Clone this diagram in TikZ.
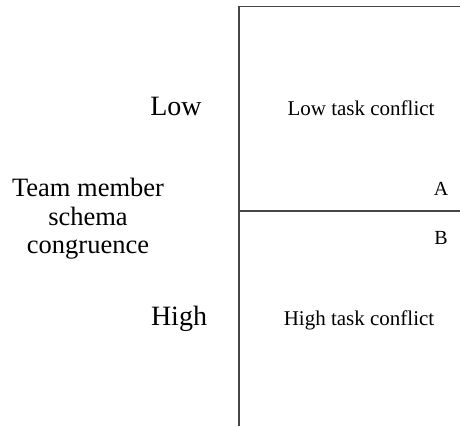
\documentclass[tikz,border=0pt]{standalone}
\usepackage{fontspec}
\setmainfont{Liberation Serif}
\begin{document}
\begin{tikzpicture}[x=1pt,y=-1pt,
  frame/.style={draw=black!72,line width=1.3pt},
  axislabel/.style={font=\fontsize{28}{28.5}\selectfont,inner sep=0pt,anchor=base},
  celltext/.style={font=\fontsize{21}{24}\selectfont,inner sep=0pt,anchor=base},
  corner/.style={font=\fontsize{20}{24}\selectfont,inner sep=0pt,anchor=base}]
\useasboundingbox (0,0) rectangle (460,426);
% quadrant frame
\coordinate (topL) at (239,6.5);
\coordinate (topR) at (460,6.5);
\coordinate (botL) at (239,426);
\coordinate (midL) at (239,211);
\coordinate (midR) at (460,211);
\draw[frame] (topR) -- (topL) -- (botL);
\draw[frame] (midL) -- (midR);
% axis labels
\node[axislabel] (low) at (176,115) {Low};
\node[axislabel] (high) at (179,325) {High};
\node[font=\fontsize{26.5}{28.5}\selectfont,align=center,inner sep=0pt] (axis) at (88,219)
  {Team member\\schema\\congruence};
% cell contents
\node[celltext] (lowcell) at (361,115) {Low task conflict};
\node[celltext] (highcell) at (359,325) {High task conflict};
\node[corner] (A) at (441,195) {A};
\node[corner] (B) at (441,244) {B};
\end{tikzpicture}
\end{document}
